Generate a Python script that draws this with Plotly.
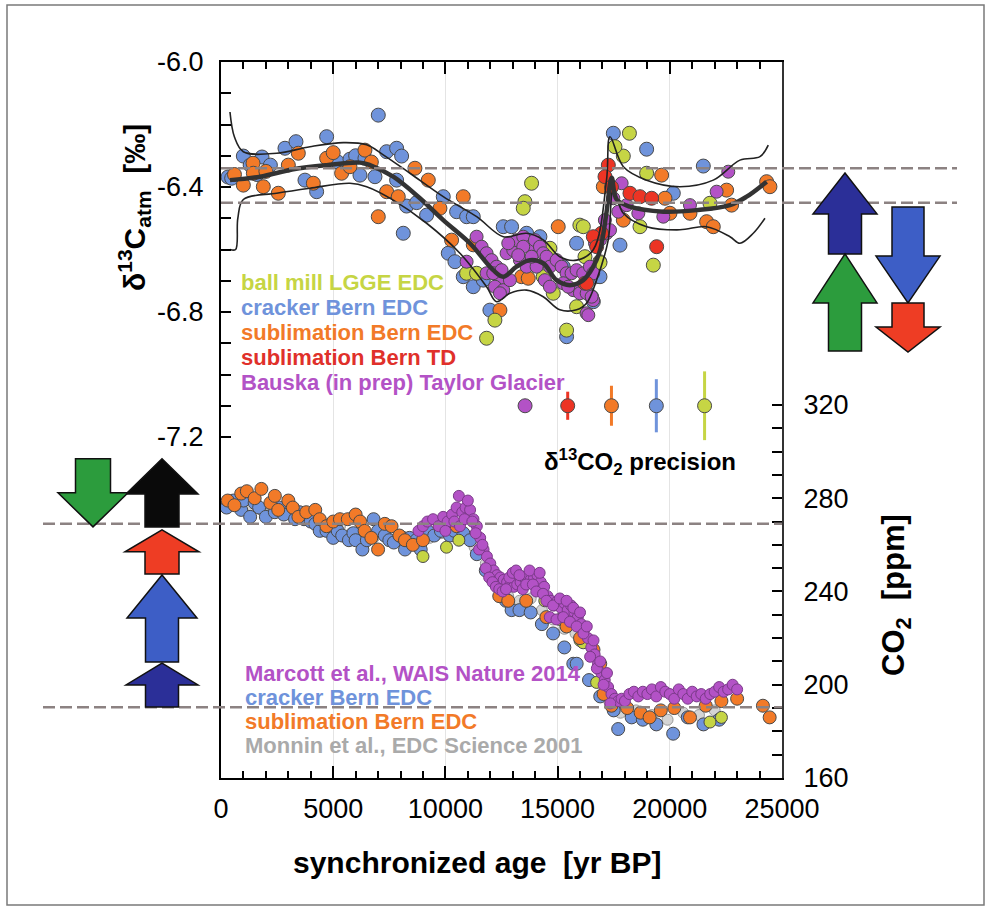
import plotly.graph_objects as go

# ---------------- delta13C data (left axis, per mil) ----------------
d13_blue_x = [312, 475, 995, 1300, 1600, 1827, 2200, 2851, 3341, 3742, 4262, 4708, 5200, 5747, 6000, 6193, 6415,
              7009, 7381, 7826, 8049, 6861, 7826, 8272, 8717, 9163, 9905, 10499, 10945, 11242, 8123, 10128, 10425,
              10796, 11242, 11687, 11984, 12578, 12949, 13618, 14212, 15251, 15400, 15845, 16736, 16513, 17483,
              18968, 20156, 21493, 17780, 16889, 16592]
d13_blue_y = [-6.368, -6.372, -6.301, -6.33, -6.36, -6.304, -6.33, -6.276, -6.255, -6.378, -6.415, -6.239, -6.32,
              -6.311, -6.30, -6.362, -6.308, -6.170, -6.287, -6.276, -6.301, -6.367, -6.378, -6.461, -6.450, -6.490,
              -6.431, -6.479, -6.495, -6.495, -6.548, -6.612, -6.639, -6.687, -6.719, -6.698, -6.794, -6.527,
              -6.527, -6.548, -6.559, -6.655, -6.879, -6.580, -6.687, -6.751, -6.228, -6.279, -6.42, -6.333,
              -6.586, -6.687, -6.767]

d13_orange_x = [600, 995, 1426, 1441, 1886, 2000, 2554, 3000, 3445, 4114, 4708, 5000, 5376, 5747, 6415, 6700, 7009,
                7381, 7900, 8643, 9237, 9757, 10796, 10276, 11242, 12430, 13395, 13692, 15028, 17037, 19637, 19785,
                20899, 22532, 22755, 21641, 21938, 24314, 24463, 17928, 20008]
d13_orange_y = [-6.36, -6.394, -6.324, -6.356, -6.399, -6.35, -6.420, -6.330, -6.292, -6.388, -6.308, -6.29, -6.356,
                -6.335, -6.282, -6.32, -6.495, -6.415, -6.431, -6.340, -6.378, -6.468, -6.431, -6.570, -6.585,
                -6.794, -6.687, -6.692, -6.527, -6.399, -6.362, -6.436, -6.484, -6.410, -6.458, -6.511, -6.527,
                -6.383, -6.399, -6.506, -6.484]

d13_yellow_x = [13840, 13543, 13469, 15993, 16880, 11835, 15400, 12206, 10945, 11390, 14360, 14806, 15845, 18200,
                17928, 17557, 18968, 16146, 16220, 16889, 18671, 19265, 21790, 14657]
d13_yellow_y = [-6.388, -6.447, -6.468, -6.522, -6.639, -6.884, -6.858, -6.826, -6.676, -6.676, -6.687, -6.740,
                -6.783, -6.228, -6.301, -6.271, -6.356, -6.527, -6.623, -6.642, -6.527, -6.650, -6.452, -6.596]

d13_red_x = [16216, 16958, 17260, 17112, 18225, 18671, 19190, 19414, 16592, 16740, 16295, 17400]
d13_red_y = [-6.708, -6.548, -6.330, -6.367, -6.420, -6.431, -6.436, -6.591, -6.559, -6.591, -6.708, -6.400]

d13_purple_x = [10945, 11390, 11613, 11836, 12058, 12281, 12430, 12207, 12578, 12875, 12727, 13024, 13172, 13469,
                13766, 13989, 14212, 14360, 14509, 14657, 14954, 15177, 15400, 15622, 15845, 16142, 16439, 16588,
                16365, 16291, 16588, 14434, 14657, 12430, 11836, 12133, 12504, 13320, 13618, 14063, 15251, 15697,
                15994, 13469, 12801, 13246, 13840, 15474, 16885, 17107, 16295, 16369, 16518, 16666, 17186, 17335,
                17483, 17854, 17706, 18077, 18597, 19711, 20899, 22087, 22606]
d13_purple_y = [-6.639, -6.559, -6.591, -6.612, -6.634, -6.655, -6.698, -6.719, -6.730, -6.698, -6.612, -6.602,
                -6.570, -6.559, -6.591, -6.570, -6.591, -6.612, -6.623, -6.655, -6.634, -6.655, -6.676, -6.676,
                -6.666, -6.676, -6.655, -6.676, -6.740, -6.804, -6.762, -6.698, -6.719, -6.740, -6.676, -6.676,
                -6.666, -6.634, -6.655, -6.655, -6.708, -6.730, -6.740, -6.591, -6.580, -6.618, -6.623, -6.719,
                -6.570, -6.506, -6.740, -6.810, -6.751, -6.580, -6.548, -6.538, -6.436, -6.388, -6.479, -6.458,
                -6.484, -6.495, -6.458, -6.415, -6.351]

# spline fit and its envelope
fit_x = [400, 1738, 3222, 4708, 6192, 6638, 7678, 8866, 9905, 11093, 12133, 12578, 13172, 13766, 14360, 14954,
         15548, 16142, 16588, 16900, 17182, 17409, 17631, 18226, 19711, 21196, 22681, 23423, 24314]
fit_y = [-6.378, -6.367, -6.343, -6.330, -6.322, -6.330, -6.367, -6.436, -6.506, -6.580, -6.666, -6.687, -6.655,
         -6.634, -6.644, -6.698, -6.714, -6.698, -6.655, -6.60, -6.48, -6.37, -6.44, -6.463, -6.479, -6.474,
         -6.458, -6.431, -6.383]
upper_x = [400, 600, 995, 2480, 3966, 5450, 6490, 7230, 8420, 9905, 11395, 12580, 13618, 14360, 15100, 15850,
           16590, 17180, 17335, 17930, 18968, 20453, 21938, 23126, 24017, 24388]
upper_y = [-6.16, -6.24, -6.287, -6.292, -6.271, -6.258, -6.265, -6.297, -6.356, -6.431, -6.495, -6.559, -6.548,
           -6.569, -6.623, -6.634, -6.601, -6.378, -6.239, -6.335, -6.378, -6.399, -6.378, -6.314, -6.303, -6.266]
lower_x = [400, 650, 750, 995, 2480, 3966, 5747, 6490, 7678, 9163, 10648, 11836, 12281, 12878, 13618, 14360,
           15100, 15848, 16290, 16736, 17255, 17483, 17929, 18968, 20453, 21641, 22681, 23126, 23720, 24240]
lower_y = [-6.60, -6.60, -6.50, -6.44, -6.420, -6.404, -6.388, -6.399, -6.442, -6.516, -6.612, -6.719, -6.767,
           -6.740, -6.730, -6.751, -6.793, -6.793, -6.772, -6.698, -6.57, -6.41, -6.484, -6.527, -6.537, -6.527,
           -6.559, -6.58, -6.548, -6.50]

# precision markers
prec_x = [13550, 15450, 17400, 19400, 21550]
prec_y = [-7.10, -7.10, -7.10, -7.10, -7.10]
prec_err = [0.005, 0.045, 0.064, 0.085, 0.11]

# ---------------- CO2 data (right axis, ppm) ----------------
co2_monnin_x = [300, 800, 1300, 1800, 2300, 2800, 3300, 3800, 4300, 4800, 5300, 5800, 6300, 6800, 7300, 7800,
                8300, 8800, 9300, 9800, 10300, 10800, 11300, 11800, 12300, 12800, 13300, 13800, 14300, 14800,
                15300, 15800, 16300, 16800, 17300, 17800, 18500, 19200, 19900, 20600, 21300, 22000]
co2_monnin_y = [278, 276, 277, 275, 274, 275, 272, 273, 270, 268, 268, 265, 263, 263, 266, 262, 261, 260, 263, 265,
                266, 264, 259, 252, 243, 238, 236, 237, 232, 228, 224, 222, 218, 207, 193, 188, 189, 187, 185, 188,
                187, 189]

co2_blue_x = [250, 550, 900, 1000, 1300, 1500, 1700, 2000, 2400, 2600, 2800, 3300, 3500, 3700, 4000, 4200, 4400,
              4700, 4900, 5000, 5200, 5400, 5700, 5900, 6000, 6300, 6500, 6800, 7000, 7300, 7500, 7700, 8100, 8200,
              8400, 8700, 8900, 9200, 9500, 9800, 10200, 10400, 10800, 11100, 11400, 11800, 12300, 12700, 12950,
              13300, 13800, 14300, 14800, 15300, 15700, 15850, 16400, 16900, 17500, 17700, 18300, 18800, 19400,
              20150, 20800, 21500, 22200]
co2_blue_y = [276, 279, 275, 279, 272, 278, 276, 272, 274, 276, 273, 271, 274, 271, 270, 269, 266, 266, 268, 263,
              266, 264, 262, 265, 262, 258, 262, 271, 266, 264, 262, 261, 263, 258, 263, 262, 258, 266, 264, 266,
              264, 266, 265, 262, 256, 249, 243, 236, 232, 232, 231, 226, 222, 216, 209, 209, 202, 195, 189, 181,
              186, 185, 183, 179, 186, 183, 185]

co2_orange_x = [300, 600, 900, 1150, 1500, 1800, 2200, 2400, 2550, 3000, 3200, 3450, 3800, 4200, 4400, 4700, 5000,
                5300, 5650, 6000, 6200, 6400, 6700, 7000, 7300, 7600, 7950, 8200, 8550, 9000, 10500, 12400, 12800,
                13600, 14500, 15400, 16000, 16600, 16900, 17050, 17400, 18100, 18700, 19100, 19600, 20200, 20900,
                21600, 22300, 23000, 24150, 24450]
co2_orange_y = [279, 277, 282, 283, 280, 284, 278, 281, 275, 279, 276, 272, 274, 275, 271, 268, 270, 271, 271, 273,
                270, 266, 263, 258, 269, 268, 264, 262, 260, 262, 268, 238, 236, 236, 229, 225, 220, 215, 209, 196,
                191, 190, 188, 186, 189, 190, 186, 191, 193, 194, 191, 186]

co2_yellow_x = [9000, 10050, 10600, 14430, 15100, 16000, 16140, 16740, 21790, 22300]
co2_yellow_y = [255, 259, 262, 236, 228, 219, 218, 201, 184, 186]

co2_marcott_x = [8800, 9000, 9200, 9450, 9700, 9900, 10100, 10300, 10500, 10600, 10750, 10900, 11100, 11250, 11400,
                 11550, 11700, 11850, 12000, 12150, 12300, 12450, 12600, 12750, 12900, 13050, 13200, 13350, 13500,
                 13650, 13800, 13950, 14100, 14250, 14400, 14550, 14700, 14850, 15000, 15150, 15300, 15450, 15600,
                 15750, 15900, 16050, 16200, 16350, 16500, 16650, 16800, 16950, 17100, 17250, 17400, 17550, 17700,
                 17850, 18000, 18200, 18400, 18600, 18800, 19000, 19200, 19400, 19600, 19800, 20000, 20200, 20400,
                 20600, 20800, 21000, 21200, 21400, 21600, 21800, 22000, 22200, 22400, 22600, 22800, 23000,
                 10000, 10400, 10650, 10850, 11000, 11200, 11350, 11500, 11650, 11800, 11950, 12100, 12250, 12400,
                 12550, 12700, 12850, 13000, 13150, 13300, 13450, 13600, 13750, 13900, 14050, 14200, 14350, 14500,
                 14650, 14800, 14950, 15100, 15250, 15400, 15550, 15700, 15850, 16000, 16150, 16300, 16450, 16600,
                 16750, 16900, 17050, 17200, 17350]
co2_marcott_y = [266, 268, 270, 271, 268, 272, 270, 273, 276, 281, 274, 276, 275, 271, 268, 263, 258, 255, 252, 249,
                 247, 246, 245, 244, 243, 242, 243, 244, 246, 247, 245, 246, 247, 244, 242, 238, 236, 234, 236, 233,
                 235, 232, 234, 231, 229, 226, 224, 220, 216, 213, 209, 205, 202, 199, 196, 194, 193, 194, 193, 196,
                 197, 195, 197, 196, 198, 195, 199, 197, 196, 194, 198, 196, 194, 197, 195, 196, 194, 196, 197, 199,
                 197, 198, 200, 198,
                 266, 270, 268, 271, 279, 270, 265, 258, 260, 250, 246, 244, 242, 241, 240, 241, 246, 248, 249, 247,
                 241, 243, 249, 243, 240, 248, 239, 236, 229, 234, 228, 237, 229, 236, 227, 233, 225, 231, 222, 225,
                 212, 219, 207, 210, 200, 205, 192]

# tick labels
x_tick_vals = [0, 5000, 10000, 15000, 20000, 25000]
x_tick_text = ["0", "5000", "10000", "15000", "20000", "25000"]
left_tick_vals = [-6.0, -6.4, -6.8, -7.2]
left_tick_text = ["-6.0", "-6.4", "-6.8", "-7.2"]
right_tick_vals = [160, 200, 240, 280, 320]
right_tick_text = ["160", "200", "240", "280", "320"]

# ---------------- styling constants ----------------
C_YEL = "#c6d544"
C_BLUE = "#6f93db"
C_ORA = "#f27a28"
C_RED = "#ec3424"
C_PUR = "#b352c6"
EDGE = "#4a4a4a"
FONT = "Liberation Sans"

fig = go.Figure()


def pts(x, y, color, size, axis="y", edge=EDGE):
    fig.add_trace(go.Scatter(x=x, y=y, mode="markers", yaxis=axis, showlegend=False,
                             marker=dict(color=color, size=size, line=dict(color=edge, width=1))))


# delta13C markers
pts(d13_blue_x, d13_blue_y, C_BLUE, 14)
pts(d13_orange_x, d13_orange_y, C_ORA, 14)
pts(d13_yellow_x, d13_yellow_y, C_YEL, 14)
pts(d13_purple_x, d13_purple_y, C_PUR, 13)
pts(d13_red_x, d13_red_y, C_RED, 14)

# fit lines
for lx, ly, w, c in [(upper_x, upper_y, 1.6, "#222"), (lower_x, lower_y, 1.6, "#222"), (fit_x, fit_y, 4.5, "#333")]:
    fig.add_trace(go.Scatter(x=lx, y=ly, mode="lines", line=dict(color=c, width=w, shape="spline"),
                             showlegend=False))

# precision markers with error bars
prec_cols = [C_PUR, C_RED, C_ORA, C_BLUE, C_YEL]
for i in range(len(prec_x)):
    fig.add_trace(go.Scatter(x=[prec_x[i]], y=[prec_y[i]], mode="markers", showlegend=False,
                             error_y=dict(type="data", array=[prec_err[i]], color=prec_cols[i], thickness=3,
                                          width=0),
                             marker=dict(color=prec_cols[i], size=14, line=dict(color=EDGE, width=1))))

# CO2 markers
pts(co2_monnin_x, co2_monnin_y, "#d4d4d4", 11, axis="y2", edge="#999999")
pts(co2_blue_x, co2_blue_y, C_BLUE, 13, axis="y2")
pts(co2_yellow_x, co2_yellow_y, C_YEL, 12, axis="y2")
pts(co2_orange_x, co2_orange_y, C_ORA, 13, axis="y2")
pts(co2_marcott_x, co2_marcott_y, C_PUR, 11, axis="y2", edge="#7a3a88")

# ---------------- layout ----------------
L, R, T, B = 221, 209, 62, 132
W, H = 991, 910
PW, PH = W - L - R, H - T - B


def px(xp):
    return (xp - L) / PW


def py(yp):
    return (H - B - yp) / PH


shapes = []
dash_col = "#8c8282"
for yv in [-6.34, -6.45]:
    shapes.append(dict(type="line", xref="paper", yref="y", x0=0, x1=px(957), y0=yv, y1=yv,
                       line=dict(color=dash_col, width=2.5, dash="12px,5px"), layer="above"))
for yv in [269, 190.3]:
    shapes.append(dict(type="line", xref="paper", yref="y2", x0=px(43), x1=1, y0=yv, y1=yv,
                       line=dict(color=dash_col, width=2.5, dash="12px,5px"), layer="above"))


def arrow(xc, hs, hh, y_start, y_base, y_tip, color, yref):
    xl, xr = px(xc - hs), px(xc + hs)
    hl, hr = px(xc - hh), px(xc + hh)
    c = px(xc)
    path = (f"M {xl},{y_start} L {xr},{y_start} L {xr},{y_base} L {hr},{y_base} L {c},{y_tip} "
            f"L {hl},{y_base} L {xl},{y_base} Z")
    shapes.append(dict(type="path", path=path, xref="paper", yref=yref, fillcolor=color,
                       line=dict(color="#111", width=1.5), layer="above"))


NAVY, MBLUE, ARED, GREEN, BLACK = "#2b2f98", "#3d5ec6", "#ee3d24", "#2c9c3d", "#0a0a0a"
# left group (CO2 units)
arrow(162, 16.5, 36, 190.5, 199.9, 209.3, NAVY, "y2")
arrow(162, 16.5, 35, 209.8, 228.6, 247.1, MBLUE, "y2")
arrow(162, 17, 37, 247.5, 257.0, 266.4, ARED, "y2")
arrow(162, 17, 36, 267.7, 281.8, 296.9, BLACK, "y2")
arrow(93, 17.5, 35, 296.9, 282.3, 267.7, GREEN, "y2")
# right group (delta13C units)
arrow(845, 16.5, 32, -6.614, -6.486, -6.355, NAVY, "y")
arrow(845, 16.5, 32, -6.925, -6.771, -6.614, GREEN, "y")
arrow(908, 16, 32, -6.464, -6.621, -6.771, MBLUE, "y")
arrow(908, 16, 32, -6.771, -6.848, -6.928, ARED, "y")

# outer frame
shapes.append(dict(type="rect", xref="paper", yref="paper", x0=px(7), x1=px(984), y0=py(905), y1=py(5),
                   line=dict(color="#7a7a7a", width=1.5), layer="below"))

ann = []


def text(s, xp, yp, size, color="#000", xanchor="left", angle=0):
    ann.append(dict(text=s, xref="paper", yref="paper", x=px(xp), y=py(yp), showarrow=False,
                    xanchor=xanchor, yanchor="middle", textangle=angle,
                    font=dict(family=FONT, size=size, color=color)))


legend_top = [("ball mill LGGE EDC", C_YEL), ("cracker Bern EDC", C_BLUE), ("sublimation Bern EDC", C_ORA),
              ("sublimation Bern TD", "#e0302a"), ("Bauska (in prep) Taylor Glacier", C_PUR)]
for i, (s, c) in enumerate(legend_top):
    text(f"<b>{s}</b>", 239, 282 + 25 * i, 22, c)

legend_bot = [("Marcott et al., WAIS Nature 2014", C_PUR), ("cracker Bern EDC", C_BLUE),
              ("sublimation Bern EDC", C_ORA), ("Monnin et al., EDC Science 2001", "#aaaaaa")]
for i, (s, c) in enumerate(legend_bot):
    text(f"<b>{s}</b>", 243, 673 + 24 * i, 22, c)

text("<b>δ<sup>13</sup>CO<sub>2</sub> precision</b>", 640, 462, 24, "#000", xanchor="center")
text("<b>synchronized age  [yr BP]</b>", 477, 862, 30, "#000", xanchor="center")
text("<b>δ<sup>13</sup>C<sub>atm</sub>  [‰]</b>", 134, 208, 30, "#000", xanchor="center", angle=-90)
text("<b>CO<sub>2</sub>  [ppm]</b>", 896, 595, 31, "#000", xanchor="center", angle=-90)

left_minor = [-6.0 - 0.1 * i for i in range(13)]
right_minor = list(range(160, 330, 10))

fig.update_layout(
    width=W, height=H, margin=dict(l=L, r=R, t=T, b=B),
    paper_bgcolor="white", plot_bgcolor="white",
    font=dict(family=FONT, size=27, color="#000"),
    shapes=shapes, annotations=ann, showlegend=False,
    xaxis=dict(range=[0, 25000], tickmode="array", tickvals=x_tick_vals, ticktext=x_tick_text, ticks="inside",
               ticklen=12, tickwidth=1.5, tickcolor="#000", showline=True, linecolor="#000", linewidth=2,
               mirror="ticks", showgrid=True, gridcolor="#e4e4e4", gridwidth=1, zeroline=False,
               minor=dict(dtick=1000, tick0=0, ticks="inside", ticklen=7, tickwidth=1.5, tickcolor="#000",
                          showgrid=False),
               tickfont=dict(size=27, family=FONT), ticklabelstandoff=6),
    yaxis=dict(range=[-8.2912, -6.0], tickmode="array", tickvals=left_tick_vals, ticktext=left_tick_text,
               ticks="inside", ticklen=10, tickwidth=1.5, tickcolor="#000", showline=True, linecolor="#000",
               linewidth=2, showgrid=False, zeroline=False,
               minor=dict(tickmode="array", tickvals=left_minor, ticks="inside", ticklen=10, tickwidth=1.5,
                          tickcolor="#000", showgrid=False),
               tickfont=dict(size=27, family=FONT), ticklabelstandoff=10),
    yaxis2=dict(range=[160, 467.1], overlaying="y", side="right", tickmode="array", tickvals=right_tick_vals,
                ticktext=right_tick_text, ticks="inside", ticklen=10, tickwidth=1.5, tickcolor="#000",
                showline=True, linecolor="#333", linewidth=2, showgrid=False, zeroline=False,
                minor=dict(tickmode="array", tickvals=right_minor, ticks="inside", ticklen=10, tickwidth=1.5,
                           tickcolor="#000", showgrid=False),
                tickfont=dict(size=27, family=FONT), ticklabelstandoff=14),
)

fig.write_html("out.html")
